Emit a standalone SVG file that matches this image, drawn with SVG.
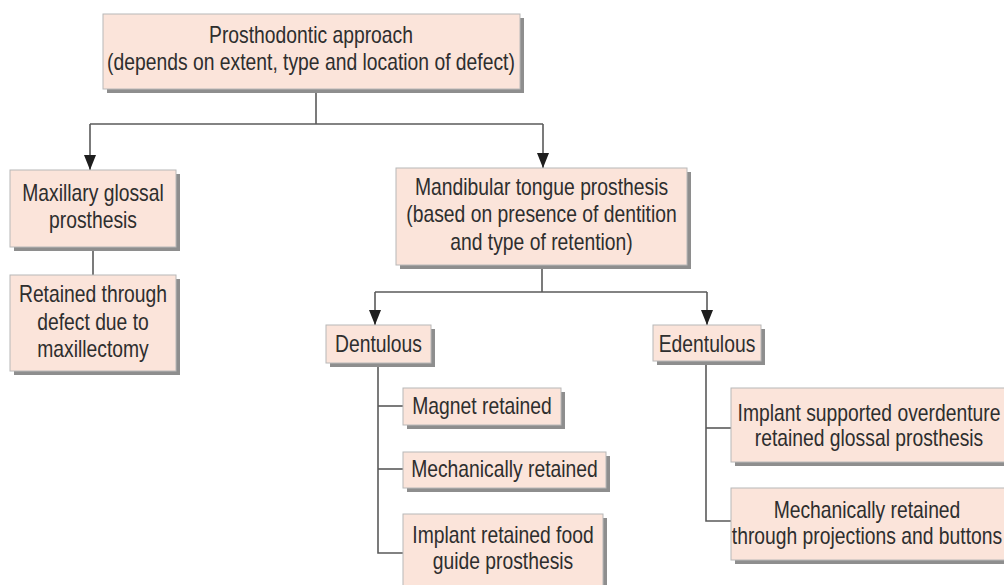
<svg xmlns="http://www.w3.org/2000/svg" width="1004" height="585" viewBox="0 0 1004 585">
<defs>
<style>
.box{fill:#fbe4da;stroke:#b8b8b8;stroke-width:1}
.sh{fill:#8e8e8e}
.t{font-family:"Liberation Sans",Arial,sans-serif;font-size:23px;fill:#2e2e2e;text-anchor:middle}
.ln{fill:none;stroke:#5a5a5a;stroke-width:1.6}
</style>
<marker id="arr" viewBox="0 0 15 12" refX="15" refY="6" markerWidth="15" markerHeight="12" markerUnits="userSpaceOnUse" orient="auto">
<path d="M0,0 L15,6 L0,12 Z" fill="#1e1e1e"/>
</marker>
</defs>
<rect width="1004" height="585" fill="#ffffff"/>
<g id="connectors">
<path class="ln" d="M316,90 V124"/>
<path class="ln" d="M90,124 H543"/>
<path class="ln" d="M90,124 V170" marker-end="url(#arr)"/>
<path class="ln" d="M543,124 V168" marker-end="url(#arr)"/>
<path class="ln" d="M93,248 V275"/>
<path class="ln" d="M542,266 V292"/>
<path class="ln" d="M375,292 H707"/>
<path class="ln" d="M375,292 V325" marker-end="url(#arr)"/>
<path class="ln" d="M707,292 V325" marker-end="url(#arr)"/>
<path class="ln" d="M378,363 V553 H403"/>
<path class="ln" d="M378,406 H403"/>
<path class="ln" d="M378,469 H403"/>
<path class="ln" d="M706,361 V521 H731"/>
<path class="ln" d="M706,428 H731"/>
</g>
<g id="n-root">
<rect class="sh" x="107" y="18" width="417" height="75"/>
<rect class="box" x="103" y="14" width="417" height="75"/>
<g transform="matrix(0.84,0,0,1,49.76,0)">
<text class="t" x="311" y="43">Prosthodontic approach</text>
<text class="t" x="311" y="70">(depends on extent, type and location of defect)</text>
</g>
</g>
<g id="n-maxillary">
<rect class="sh" x="14" y="174" width="166" height="77"/>
<rect class="box" x="10" y="170" width="166" height="77"/>
<g transform="matrix(0.84,0,0,1,14.88,0)">
<text class="t" x="93" y="201">Maxillary glossal</text>
<text class="t" x="93" y="228">prosthesis</text>
</g>
</g>
<g id="n-retained-defect">
<rect class="sh" x="14" y="279" width="166" height="96"/>
<rect class="box" x="10" y="275" width="166" height="96"/>
<g transform="matrix(0.84,0,0,1,14.88,0)">
<text class="t" x="93" y="302">Retained through</text>
<text class="t" x="93" y="330">defect due to</text>
<text class="t" x="93" y="357">maxillectomy</text>
</g>
</g>
<g id="n-mandibular">
<rect class="sh" x="400" y="172" width="291" height="97"/>
<rect class="box" x="396" y="168" width="291" height="97"/>
<g transform="matrix(0.84,0,0,1,86.64,0)">
<text class="t" x="541.5" y="195">Mandibular tongue prosthesis</text>
<text class="t" x="541.5" y="222.5">(based on presence of dentition</text>
<text class="t" x="541.5" y="250">and type of retention)</text>
</g>
</g>
<g id="n-dentulous">
<rect class="sh" x="330" y="329" width="105" height="38"/>
<rect class="box" x="326" y="325" width="105" height="38"/>
<text class="t" x="378.5" y="352" transform="matrix(0.84,0,0,1,60.56,0)">Dentulous</text>
</g>
<g id="n-edentulous">
<rect class="sh" x="657" y="329" width="108" height="36"/>
<rect class="box" x="653" y="325" width="108" height="36"/>
<text class="t" x="707" y="352" transform="matrix(0.84,0,0,1,113.12,0)">Edentulous</text>
</g>
<g id="n-magnet">
<rect class="sh" x="407" y="392" width="158" height="37"/>
<rect class="box" x="403" y="388" width="158" height="37"/>
<text class="t" x="482" y="414" transform="matrix(0.84,0,0,1,77.12,0)">Magnet retained</text>
</g>
<g id="n-mech-dent">
<rect class="sh" x="407" y="456" width="203" height="36"/>
<rect class="box" x="403" y="452" width="203" height="36"/>
<text class="t" x="504.5" y="477" transform="matrix(0.84,0,0,1,80.72,0)">Mechanically retained</text>
</g>
<g id="n-implant-food">
<rect class="sh" x="407" y="518" width="200" height="80"/>
<rect class="box" x="403" y="514" width="200" height="80"/>
<g transform="matrix(0.84,0,0,1,80.48,0)">
<text class="t" x="503" y="543">Implant retained food</text>
<text class="t" x="503" y="569">guide prosthesis</text>
</g>
</g>
<g id="n-implant-over">
<rect class="sh" x="735" y="392" width="290" height="74"/>
<rect class="box" x="731" y="388" width="290" height="74"/>
<g transform="matrix(0.84,0,0,1,139.04,0)">
<text class="t" x="869" y="421">Implant supported overdenture</text>
<text class="t" x="869" y="446">retained glossal prosthesis</text>
</g>
</g>
<g id="n-mech-eden">
<rect class="sh" x="735" y="492" width="290" height="72"/>
<rect class="box" x="731" y="488" width="290" height="72"/>
<g transform="matrix(0.84,0,0,1,138.72,0)">
<text class="t" x="867" y="518">Mechanically retained</text>
<text class="t" x="867" y="544">through projections and buttons</text>
</g>
</g>
</svg>
